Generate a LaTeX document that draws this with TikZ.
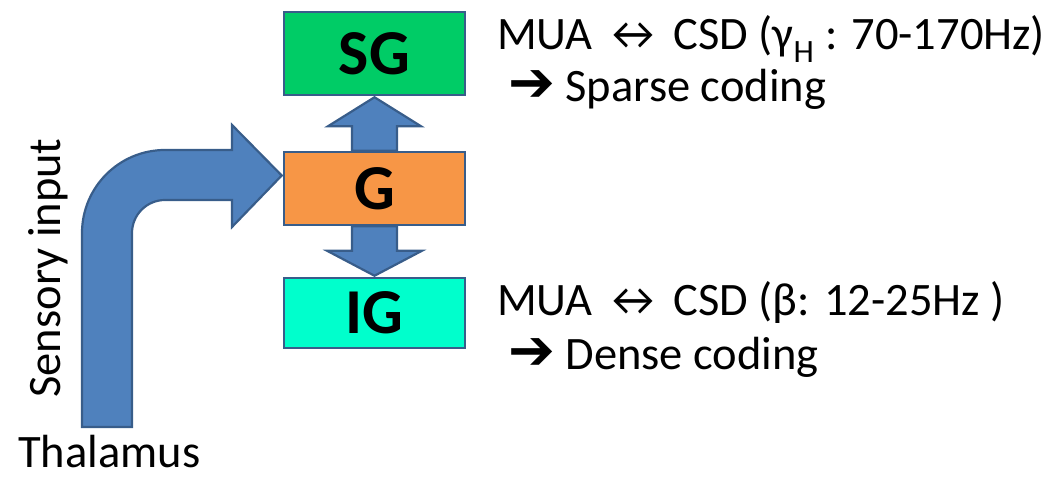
\documentclass[tikz,border=0pt]{standalone}
\usepackage{fontspec}
\setmainfont{Carlito}
\newfontfamily\dejavu{DejaVu Sans}
\usetikzlibrary{calc}
\definecolor{sgcol}{HTML}{00CC66}
\definecolor{gcol}{HTML}{F79646}
\definecolor{igcol}{HTML}{00FFCC}
\definecolor{edgecol}{HTML}{385D8A}
\definecolor{arrcol}{HTML}{4F81BD}
\newcommand{\bigarr}{\smash{\dejavu\bfseries\fontsize{56}{56}\selectfont ➔}}
\tikzset{
  layer/.style={draw=edgecol, line width=2.5pt, minimum width=181pt, inner sep=0pt,
    font=\fontsize{64}{64}\selectfont\bfseries},
  blockarrow/.style={draw=edgecol, fill=arrcol, line width=2.2pt, line join=miter},
  lbl/.style={inner sep=0pt, font=\fontsize{46.5}{46.5}\selectfont}
}
\begin{document}
\begin{tikzpicture}[x=1pt,y=1pt]
\useasboundingbox (0,0) rectangle (1052,478);
% layers
\node[layer, fill=sgcol, minimum height=83pt] (SG) at (374.5,424.5) {SG};
\node[layer, fill=gcol, minimum height=73pt] (G) at (374.5,289.5) {G};
\node[layer, fill=igcol, minimum height=70pt] (IG) at (374.5,165) {IG};
% up arrow G -> SG
\draw[blockarrow] ($(G.north)+(-22.5,0)$) -- ($(SG.south)+(-22.5,-30)$)
  -- ($(SG.south)+(-46.5,-30)$) -- ($(SG.south)+(0,-1)$) -- ($(SG.south)+(46.5,-30)$)
  -- ($(SG.south)+(22.5,-30)$) -- ($(G.north)+(22.5,0)$) -- cycle;
% down arrow G -> IG
\draw[blockarrow] ($(G.south)+(-22.5,0)$) -- ($(IG.north)+(-22.5,26)$)
  -- ($(IG.north)+(-47.5,26)$) -- ($(IG.north)+(0,1)$) -- ($(IG.north)+(47.5,26)$)
  -- ($(IG.north)+(22.5,26)$) -- ($(G.south)+(22.5,0)$) -- cycle;
% sensory input bent arrow
\draw[blockarrow] (82,51) -- (82,245) arc[start angle=180, end angle=90, radius=83]
  -- (232,328) -- (232,353) -- ($(G.west)+(-1,13)$) -- (232,251) -- (232,278) -- (165,278)
  arc[start angle=90, end angle=180, radius=33] -- (132,51) -- cycle;
% labels
\node[lbl, anchor=base west] (thtext) at (18,10) {Thalamus};
\node[lbl, rotate=90, anchor=base] (sens) at (60,210) {Sensory input};
\node[lbl, anchor=base west] (t1) at (497,428) {MUA ↔ CSD (γ\textsubscript{H} : 70-170Hz)};
\node[lbl, anchor=base west] (t2) at (508,376) {\bigarr\ Sparse coding};
\node[lbl, anchor=base west] (t3) at (497,162) {MUA ↔ CSD (β: 12-25Hz )};
\node[lbl, anchor=base west] (t4) at (508,108) {\bigarr\ Dense coding};
\end{tikzpicture}
\end{document}
